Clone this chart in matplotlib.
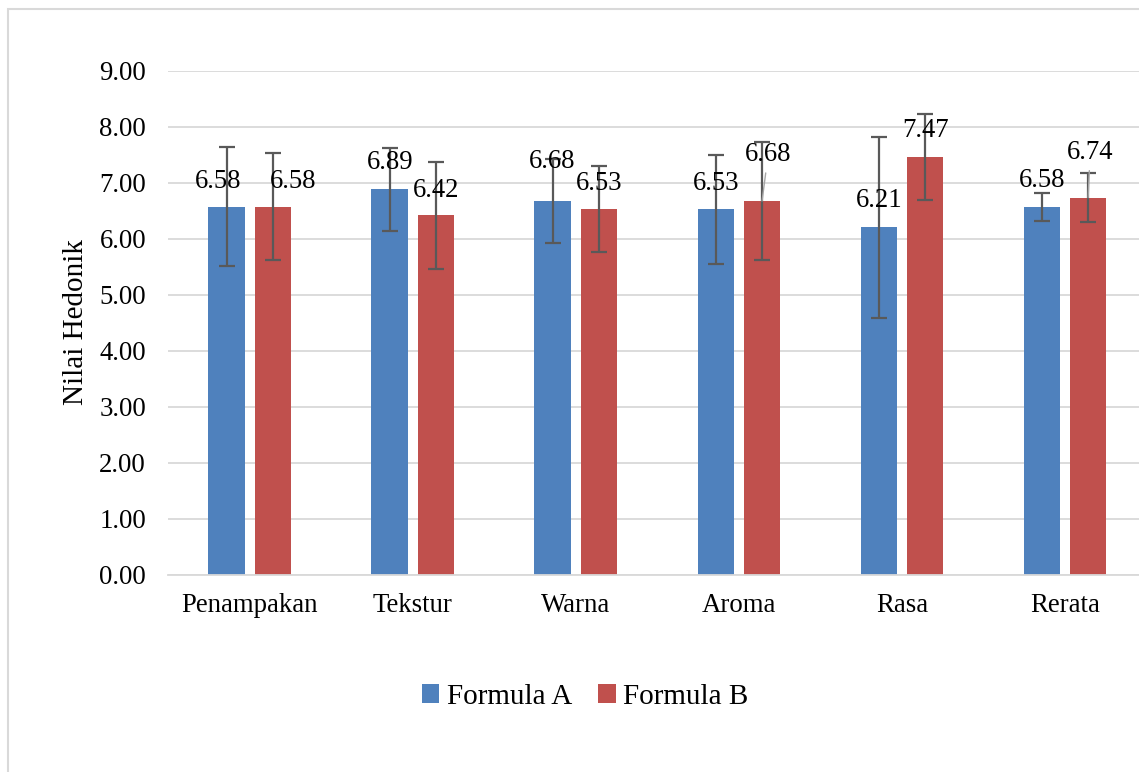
import matplotlib
matplotlib.use("Agg")
import matplotlib.pyplot as plt
import numpy as np
from matplotlib.patches import Patch, Rectangle

categories = ["Penampakan", "Tekstur", "Warna", "Aroma", "Rasa", "Rerata"]
formula_a = [6.58, 6.89, 6.68, 6.53, 6.21, 6.58]
formula_b = [6.58, 6.42, 6.53, 6.68, 7.47, 6.74]
err_a = [1.07, 0.74, 0.75, 0.97, 1.62, 0.25]
err_b = [0.96, 0.96, 0.77, 1.06, 0.77, 0.43]
yticks = [0, 1, 2, 3, 4, 5, 6, 7, 8, 9]
series_names = ["Formula A", "Formula B"]

# label offsets in pixels (dx, dy) relative to bar top centre, and leader flag
label_off_a = [(-9, 25), (0, 27), (-1, 39), (0, 26), (0, 27), (0, 26)]
label_off_b = [(20, 25), (0, 25), (0, 26), (6, 46), (0, 26), (2, 45)]
leader_b = [False, False, False, True, False, True]

BLUE = "#4F81BD"
RED = "#C0504D"
GRID = "#D9D9D9"
ERR = "#595959"

plt.rcParams["font.family"] = ["Liberation Serif", "DejaVu Serif"]
FS = 19.3
FS_BIG = 21

W, H = 1139, 772
fig = plt.figure(figsize=(W / 100, H / 100), dpi=100)

left_px, right_px, bottom_px, top_px = 168.3, 1139, 575, 71
ax = fig.add_axes([left_px / W, 1 - bottom_px / H,
                   (right_px - left_px) / W, (bottom_px - top_px) / H])

x = np.arange(len(categories))
bw = 0.224
off = 0.142

ax.bar(x - off, formula_a, width=bw, color=BLUE, zorder=2)
ax.bar(x + off, formula_b, width=bw, color=RED, zorder=2)
ax.errorbar(x - off, formula_a, yerr=err_a, fmt="none", ecolor=ERR,
            elinewidth=1.6, capsize=5.5, capthick=1.6, zorder=3)
ax.errorbar(x + off, formula_b, yerr=err_b, fmt="none", ecolor=ERR,
            elinewidth=1.6, capsize=5.5, capthick=1.6, zorder=3)

for i in range(len(categories)):
    dx, dy = label_off_a[i]
    ax.annotate(f"{formula_a[i]:.2f}", xy=(x[i] - off, formula_a[i]),
                xytext=(dx, dy), textcoords="offset pixels",
                ha="center", va="center", fontsize=FS, zorder=4)
    dx, dy = label_off_b[i]
    if leader_b[i]:
        ax.annotate(f"{formula_b[i]:.2f}", xy=(x[i] + off, formula_b[i]),
                    xytext=(dx, dy), textcoords="offset pixels",
                    ha="center", va="center", fontsize=FS, zorder=4,
                    arrowprops=dict(arrowstyle="-", color="#A6A6A6", lw=1.0,
                                    shrinkA=2, shrinkB=0))
    else:
        ax.annotate(f"{formula_b[i]:.2f}", xy=(x[i] + off, formula_b[i]),
                    xytext=(dx, dy), textcoords="offset pixels",
                    ha="center", va="center", fontsize=FS, zorder=4)

ax.set_ylim(0, 9)
ax.set_xlim(-0.5, (right_px - 250) / 163)
ax.set_yticks(yticks)
ax.set_yticklabels([f"{v:.2f}" for v in yticks], fontsize=FS)
ax.set_xticks(x)
ax.set_xticklabels(categories, fontsize=FS)
ax.tick_params(axis="both", length=0)
ax.tick_params(axis="y", pad=16)
ax.tick_params(axis="x", pad=13)
ax.yaxis.grid(True, color=GRID, lw=1.3, zorder=0)
ax.set_axisbelow(True)
for s in ["left", "right", "top"]:
    ax.spines[s].set_visible(False)
ax.spines["bottom"].set_color(GRID)
ax.spines["bottom"].set_linewidth(1.3)

fig.text(76 / W, 1 - 322 / H, "Nilai Hedonik", rotation=90, fontsize=FS_BIG,
         ha="center", va="center")

handles = [Patch(facecolor=BLUE), Patch(facecolor=RED)]
fig.legend(handles, series_names, loc="center",
           bbox_to_anchor=(585 / W, 1 - 697 / H), ncol=2, frameon=False,
           fontsize=FS_BIG, handlelength=0.6, handleheight=0.6,
           handletextpad=0.25, columnspacing=0.9)

# chart border
fig.add_artist(Rectangle((8 / W, -0.1), 1.2, 1.1 + (1 - 9 / H) - 1,
                         transform=fig.transFigure, fill=False,
                         edgecolor=GRID, lw=1.5))

fig.savefig("out.png", dpi=100)
